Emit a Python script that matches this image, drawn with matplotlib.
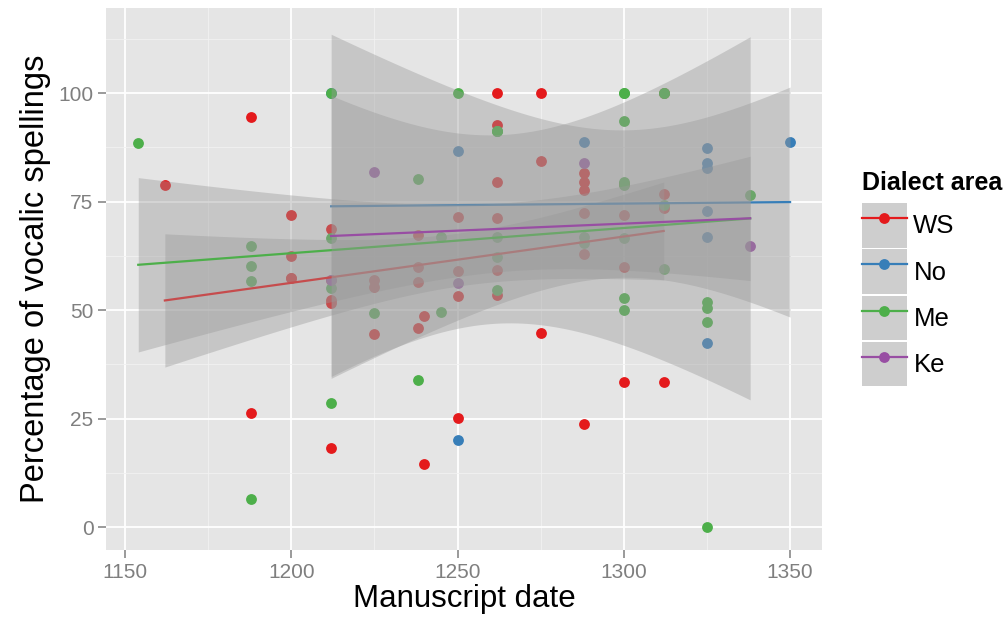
# Manuscript date vs. vocalic spellings, ggplot-style chart
import math
import matplotlib
matplotlib.use("Agg")
import matplotlib.pyplot as plt
import numpy as np
from matplotlib.lines import Line2D
from matplotlib.patches import Patch

plt.rcParams["font.family"] = ["Liberation Sans", "DejaVu Sans"]

# Data, one pair of lists per dialect area
ws_date = [1162, 1188, 1188, 1200, 1200, 1200, 1200, 1212, 1212, 1212, 1212, 1212,
           1225, 1225, 1225, 1238, 1238, 1238, 1238, 1240, 1240, 1250, 1250, 1250, 1250,
           1262, 1262, 1262, 1262, 1262, 1262, 1275, 1275, 1275,
           1288, 1288, 1288, 1288, 1288, 1288, 1300, 1300, 1300, 1300,
           1312, 1312, 1312, 1312]
ws_pct = [78.8, 94.5, 26.3, 71.9, 62.4, 57.4, 57.4, 68.6, 57.0, 52.3, 51.6, 18.2,
          57.0, 55.4, 44.5, 67.3, 60.0, 56.5, 45.8, 48.6, 14.5, 71.5, 59.0, 53.2, 25.1,
          100.0, 92.6, 79.5, 71.1, 59.2, 53.5, 100.0, 84.3, 44.7,
          81.5, 79.5, 77.6, 72.3, 62.9, 23.7, 79.0, 71.9, 60.0, 33.4,
          100.0, 76.7, 73.5, 33.4]

no_date = [1212, 1250, 1250, 1288, 1325, 1325, 1325, 1325, 1325, 1325, 1350]
no_pct = [100.0, 86.6, 20.0, 88.7, 87.3, 83.8, 82.7, 72.8, 66.8, 42.4, 88.7]

me_date = [1154, 1188, 1188, 1188, 1188, 1212, 1212, 1212, 1212, 1225, 1238, 1238,
           1245, 1245, 1250, 1262, 1262, 1262, 1262, 1262, 1262, 1288, 1288,
           1300, 1300, 1300, 1300, 1300, 1300, 1300, 1300,
           1312, 1312, 1312, 1312, 1325, 1325, 1325, 1325, 1338]
me_pct = [88.5, 64.7, 60.1, 56.7, 6.4, 100.0, 66.6, 55.0, 28.6, 49.3, 80.2, 33.9,
          66.8, 49.5, 100.0, 91.2, 91.2, 91.2, 66.8, 62.2, 54.6, 66.8, 65.4,
          100.0, 100.0, 93.5, 79.5, 78.8, 66.6, 52.8, 50.0,
          100.0, 100.0, 74.2, 59.4, 51.8, 50.5, 47.2, 0.0, 76.5]

ke_date = [1212, 1225, 1250, 1288, 1338]
ke_pct = [57.0, 81.8, 56.2, 83.8, 64.7]

groups = ["WS", "No", "Me", "Ke"]
colors = ["#E41A1C", "#377EB8", "#4DAF4A", "#984EA3"]
dates = [ws_date, no_date, me_date, ke_date]
pcts = [ws_pct, no_pct, me_pct, ke_pct]


def t_quantile(p, df):
    # numeric inverse of the Student t cdf
    c = math.gamma((df + 1) / 2) / (math.sqrt(df * math.pi) * math.gamma(df / 2))
    x = np.linspace(0, 60, 300001)
    pdf = c * (1 + x ** 2 / df) ** (-(df + 1) / 2)
    cdf = 0.5 + np.concatenate([[0], np.cumsum((pdf[1:] + pdf[:-1]) / 2 * np.diff(x))])
    return np.interp(p, cdf, x)


def lm_band(x, y, n_out=80):
    # linear fit with 95% confidence band, like geom_smooth(method = "lm")
    x = np.asarray(x, float)
    y = np.asarray(y, float)
    n = len(x)
    b, a = np.polyfit(x, y, 1)
    res = y - (a + b * x)
    s = np.sqrt(np.sum(res ** 2) / (n - 2))
    sxx = np.sum((x - x.mean()) ** 2)
    xs = np.linspace(x.min(), x.max(), n_out)
    fit = a + b * xs
    se = s * np.sqrt(1 / n + (xs - x.mean()) ** 2 / sxx)
    t = t_quantile(0.975, n - 2)
    return xs, fit, fit - t * se, fit + t * se


fig = plt.figure(figsize=(10.06, 6.3), dpi=100)
ax = fig.add_axes([106 / 1006, 80 / 630, 716 / 1006, 542 / 630])
ax.set_facecolor("#E5E5E5")

# points first
for d, p, col in zip(dates, pcts, colors):
    ax.plot(d, p, "o", color=col, markersize=7.8, markeredgewidth=0, zorder=2)

# smooth layer: ribbon then line per group
z = 3
for d, p, col in zip(dates, pcts, colors):
    xs, fit, lo, hi = lm_band(d, p)
    ax.fill_between(xs, lo, hi, color="#999999", alpha=0.4, linewidth=0, zorder=z)
    ax.plot(xs, fit, color=col, linewidth=1.6, zorder=z + 0.5)
    z += 1

ax.set_xlim(1144.3, 1359.6)
ax.set_ylim(-5.3, 119.6)
ax.set_xticks([1150, 1200, 1250, 1300, 1350])
ax.set_yticks([0, 25, 50, 75, 100])
ax.set_xticks([1175, 1225, 1275, 1325], minor=True)
ax.set_yticks([12.5, 37.5, 62.5, 87.5, 112.5], minor=True)
ax.grid(which="major", color="white", linewidth=1.3, zorder=0)
ax.grid(which="minor", color="#F2F2F2", linewidth=0.6, zorder=0)
ax.set_axisbelow(True)
for sp in ax.spines.values():
    sp.set_visible(False)
ax.tick_params(which="major", length=6, width=1.1, color="#7F7F7F",
               labelcolor="#7F7F7F", labelsize=15, pad=3)
ax.tick_params(which="minor", length=0)

ax.set_xlabel("Manuscript date", fontsize=22.5, labelpad=2)
ax.set_ylabel("Percentage of vocalic spellings", fontsize=23.5, labelpad=5)

# legend: grey key boxes with line + point, title placed above
handles = [(Patch(facecolor="#CECECE", edgecolor="none"),
            Line2D([], [], color=c, linewidth=1.6, marker="o", markersize=7.8,
                   markeredgewidth=0)) for c in colors]
fig.legend(handles, groups, loc="upper left",
           bbox_to_anchor=(862 / 1006, 1 - 203 / 630),
           frameon=False, fontsize=18.5,
           handlelength=1.75, handleheight=2.3, labelspacing=0.06,
           handletextpad=0.25, borderpad=0, borderaxespad=0, numpoints=1)
fig.text(862 / 1006, 1 - 183 / 630, "Dialect area", fontsize=18, weight="bold",
         ha="left", va="center")

fig.savefig("out.png", dpi=100)
